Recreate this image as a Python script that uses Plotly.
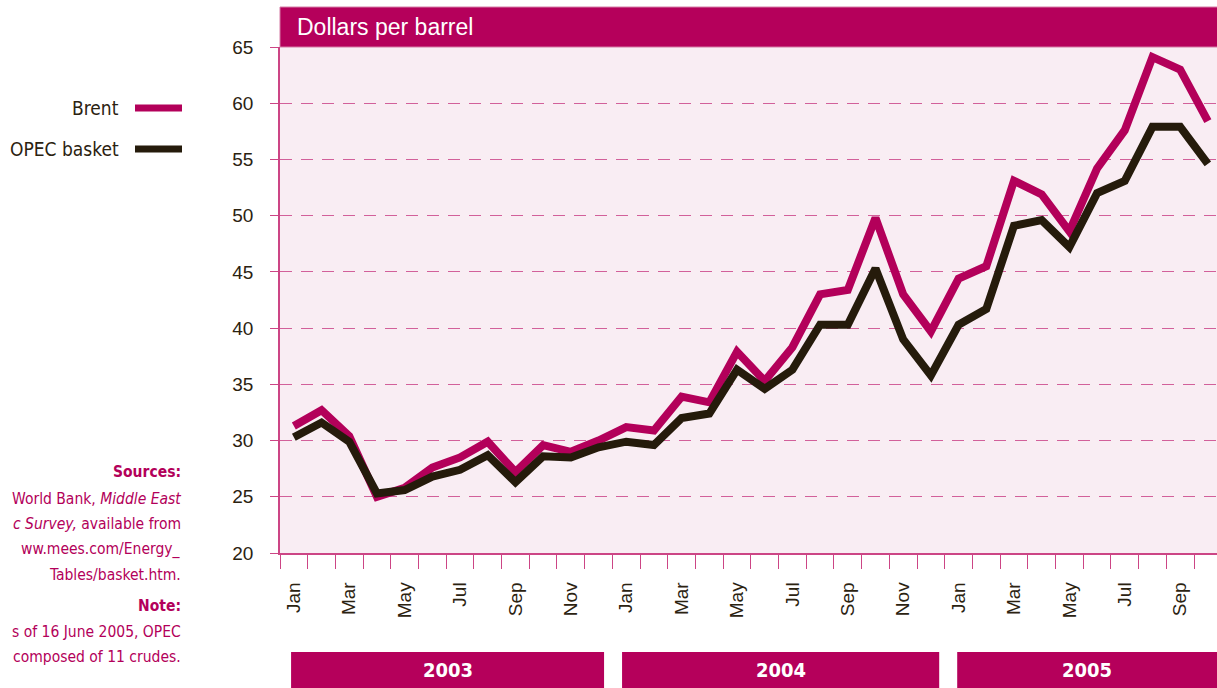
import plotly.graph_objects as go

months = ["Jan", "Feb", "Mar", "Apr", "May", "Jun", "Jul", "Aug", "Sep", "Oct", "Nov", "Dec"] * 2 + \
         ["Jan", "Feb", "Mar", "Apr", "May", "Jun", "Jul", "Aug", "Sep", "Oct"]
years = ["2003", "2004", "2005"]
brent = [31.3, 32.7, 30.4, 25.0, 25.8, 27.6, 28.5, 29.9, 27.2, 29.6, 29.0, 30.0,
         31.2, 30.9, 33.9, 33.4, 37.9, 35.3, 38.3, 43.0, 43.4, 49.8, 43.0, 39.7,
         44.4, 45.5, 53.1, 51.9, 48.6, 54.2, 57.6, 64.1, 63.0, 58.4]
opec = [30.3, 31.6, 29.9, 25.3, 25.6, 26.8, 27.4, 28.7, 26.3, 28.6, 28.5, 29.4,
        29.9, 29.6, 32.0, 32.4, 36.3, 34.6, 36.3, 40.3, 40.3, 45.3, 39.0, 35.8,
        40.3, 41.7, 49.1, 49.6, 47.2, 52.0, 53.1, 57.9, 57.9, 54.6]
y_ticks = [20, 25, 30, 35, 40, 45, 50, 55, 60, 65]

MAG = "#b3005a"
DARK = "#251b0b"
PINK = "#cc4585"
TXT = "#2b2210"
NARROW = "Liberation Sans Narrow, DejaVu Sans Condensed, Arial Narrow, sans-serif"
SANS = "Liberation Sans, Arial, sans-serif"

x = list(range(len(months)))
fig = go.Figure()
fig.add_trace(go.Scatter(x=x, y=brent, mode="lines", name="Brent",
                         line=dict(color=MAG, width=8)))
fig.add_trace(go.Scatter(x=x, y=opec, mode="lines", name="OPEC basket",
                         line=dict(color=DARK, width=8)))

label_idx = [i for i in x if i % 2 == 0]
fig.update_xaxes(
    range=[-0.5, 33.33], tickmode="array", tickvals=label_idx,
    ticktext=[months[i] for i in label_idx], tickangle=-90, ticks="",
    tickfont=dict(family=SANS, size=19, color=TXT),
    ticklabelstandoff=20, showgrid=False, zeroline=False,
    showline=True, linecolor=PINK, linewidth=1.5,
    minor=dict(tickmode="array", tickvals=[i - 0.5 for i in x], ticks="outside",
               ticklen=14, tickcolor=PINK, tickwidth=1, showgrid=False),
)
fig.update_yaxes(
    range=[20, 65], tickmode="array", tickvals=y_ticks, ticks="outside", ticklen=8,
    tickcolor=PINK, tickwidth=1,
    tickfont=dict(family=SANS, size=19, color=TXT),
    ticklabelstandoff=13, showgrid=True, gridcolor="#d2609a", gridwidth=1,
    griddash="12px,9px", zeroline=False, showline=True, linecolor=PINK, linewidth=1.5,
)

shapes = []
# header bar
shapes.append(dict(type="rect", xref="paper", yref="paper", x0=0, x1=1.01, y0=1, y1=1.079,
                   fillcolor="#b5005b", line=dict(color="#d47aa5", width=1), layer="above"))
# year bars
year_spans = [(-0.1, 11.2), (11.85, 23.3), (23.95, 34.0)]
annotations = []
for (a, b), yr in zip(year_spans, years):
    shapes.append(dict(type="rect", xref="x", yref="paper", x0=a, x1=b, y0=-0.2668, y1=-0.1957,
                       fillcolor="#b5005b", line=dict(width=0)))
    cx = (a + min(b, 33.33)) / 2
    annotations.append(dict(xref="x", yref="paper", x=cx, y=-0.2312, text="<b>" + yr + "</b>",
                            showarrow=False, font=dict(family=NARROW, size=20, color="white"),
                            xanchor="center", yanchor="middle"))

annotations.append(dict(xref="paper", yref="paper", x=0.016, y=1.0395, text="Dollars per barrel",
                        showarrow=False, xanchor="left", yanchor="middle",
                        font=dict(family=SANS, size=23, color="white")))

# helper: reference-page pixel -> paper coords
def px_x(p):
    return (p - 280) / 937

def px_y(p):
    return (553 - p) / 506

for name, col, py in [("Brent", MAG, 108), ("OPEC basket", DARK, 149)]:
    annotations.append(dict(xref="paper", yref="paper", x=px_x(121), y=px_y(py), text=name,
                            showarrow=False, xanchor="right", yanchor="middle",
                            font=dict(family=NARROW, size=19, color=TXT)))
    shapes.append(dict(type="line", xref="paper", yref="paper", x0=px_x(135), x1=px_x(182),
                       y0=px_y(py), y1=px_y(py), line=dict(color=col, width=7)))

notes = [
    ("<b>Sources:</b>", 472),
    ("World Bank, <i>Middle East</i>", 499),
    ("<i>c Survey,</i> available from", 524),
    ("ww.mees.com/Energy_", 549),
    ("Tables/basket.htm.", 575),
    ("<b>Note:</b>", 606),
    ("s of 16 June 2005, OPEC", 632),
    ("composed of 11 crudes.", 657),
]
for t, py in notes:
    annotations.append(dict(xref="paper", yref="paper", x=px_x(183), y=px_y(py), text=t,
                            showarrow=False, xanchor="right", yanchor="middle",
                            font=dict(family=NARROW, size=15.5, color=MAG)))

fig.update_layout(
    width=1217, height=688, margin=dict(l=280, r=0, t=47, b=135),
    paper_bgcolor="white", plot_bgcolor="#f9edf3", showlegend=False,
    shapes=shapes, annotations=annotations,
)
fig.write_html("out.html", config={"displayModeBar": False},
               post_script="document.body.style.margin='0';document.body.style.overflow='hidden';")
